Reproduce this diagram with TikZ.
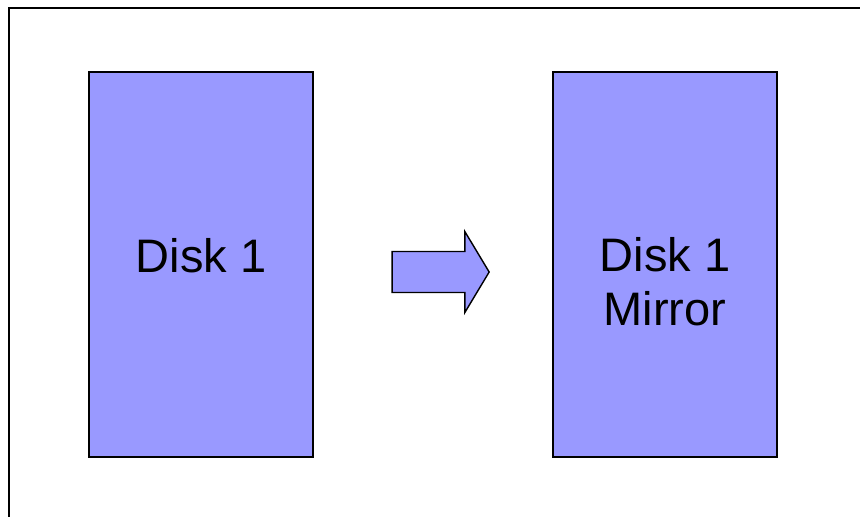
\documentclass[tikz,border=0pt]{standalone}
\usepackage{fontspec}
\setmainfont{Liberation Sans}
\usetikzlibrary{shapes.arrows}
\definecolor{diskblue}{RGB}{153,153,255}
\begin{document}
\begin{tikzpicture}[x=0.5pt,y=-0.5pt,
  disk/.style={draw=black,line width=0.8pt,fill=diskblue,minimum width=112pt,minimum height=192.5pt,inner sep=0pt},
  disklabel/.style={font=\fontsize{23.5}{27}\selectfont,align=center,inner sep=0pt},
  copyarrow/.style={draw=black,line width=0.7pt,fill=diskblue,single arrow,single arrow head extend=10pt,
    single arrow tip angle=118,inner xsep=0pt,inner ysep=9.9pt,minimum height=48.5pt}]
% fix the page size
\useasboundingbox (0,0) rectangle (860,516);

% frame round the slide (runs off the right and bottom)
\draw[line width=1pt] (9,520) -- (9,8) -- (865,8);

% the two disks
\node[disk] (disk) at (201,264.5) {};
\node[disk] (mirror) at (665,264.5) {};

% labels
\node[disklabel,anchor=base] (disklabel) at (201,272) {Disk 1};
\node[disklabel] (mirrorlabel) at (665,282) {Disk 1\\Mirror};

% copy arrow between them
\node[copyarrow] (copy) at (434.5,272) {};

\end{tikzpicture}
\end{document}
